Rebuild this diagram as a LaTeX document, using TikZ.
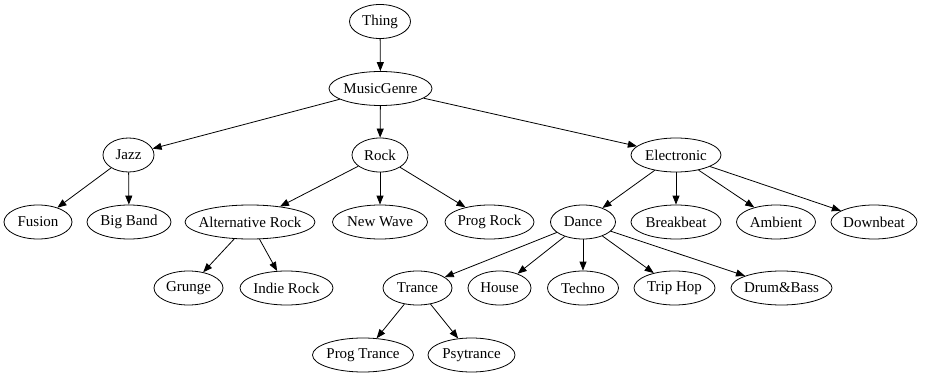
\documentclass[tikz,border=0pt]{standalone}
\usepackage{fontspec}
\setmainfont{Liberation Serif}
\usetikzlibrary{shapes.geometric,arrows.meta}
\begin{document}
\begin{tikzpicture}[x=1pt,y=-1pt,
  gnode/.style={draw,ellipse,line width=0.8pt,inner xsep=-8pt,inner ysep=0pt,
    minimum height=34pt,font=\fontsize{15}{17}\selectfont},
  edge/.style={line width=0.8pt,-{Triangle[length=9pt,width=7pt]}}]
\useasboundingbox (0,0) rectangle (925,374);
\node[gnode,minimum width=61pt]  (thing) at (380,21.5) {Thing};
\node[gnode,minimum width=103pt] (mg) at (380.5,88.5) {MusicGenre};
\node[gnode,minimum width=51pt]  (jazz) at (128.5,155) {Jazz};
\node[gnode,minimum width=56pt]  (rock) at (380,155) {Rock};
\node[gnode,minimum width=90pt]  (elec) at (676,155) {Electronic};
\node[gnode,minimum width=68pt]  (fusion) at (38,222) {Fusion};
\node[gnode,minimum width=84pt]  (bigband) at (129,222) {Big Band};
\node[gnode,minimum width=130pt] (altrock) at (250,222) {Alternative Rock};
\node[gnode,minimum width=95pt]  (newwave) at (380,222) {New Wave};
\node[gnode,minimum width=89pt]  (progrock) at (489.5,222) {Prog Rock};
\node[gnode,minimum width=65pt]  (dance) at (583,222) {Dance};
\node[gnode,minimum width=90pt]  (breakbeat) at (676,222) {Breakbeat};
\node[gnode,minimum width=79pt]  (ambient) at (776,222) {Ambient};
\node[gnode,minimum width=86pt]  (downbeat) at (874,222) {Downbeat};
\node[gnode,minimum width=69pt]  (grunge) at (188.5,288) {Grunge};
\node[gnode,minimum width=93pt]  (indie) at (286.5,288) {Indie Rock};
\node[gnode,minimum width=69pt]  (trance) at (417.5,288) {Trance};
\node[gnode,minimum width=63pt]  (house) at (499.5,288) {House};
\node[gnode,minimum width=71pt]  (techno) at (583,288) {Techno};
\node[gnode,minimum width=81pt]  (triphop) at (674.5,288) {Trip Hop};
\node[gnode,minimum width=101pt] (dnb) at (781.5,288) {Drum\&Bass};
\node[gnode,minimum width=101pt] (progtrance) at (363,355) {Prog Trance};
\node[gnode,minimum width=87pt]  (psy) at (471.5,355) {Psytrance};
\draw[edge] (thing) -- (mg);
\draw[edge] (mg) -- (jazz);
\draw[edge] (mg) -- (rock);
\draw[edge] (mg) -- (elec);
\draw[edge] (jazz) -- (fusion);
\draw[edge] (jazz) -- (bigband);
\draw[edge] (rock) -- (altrock);
\draw[edge] (rock) -- (newwave);
\draw[edge] (rock) -- (progrock);
\draw[edge] (elec) -- (dance);
\draw[edge] (elec) -- (breakbeat);
\draw[edge] (elec) -- (ambient);
\draw[edge] (elec) -- (downbeat);
\draw[edge] (altrock) -- (grunge);
\draw[edge] (altrock) -- (indie);
\draw[edge] (dance) -- (trance);
\draw[edge] (dance) -- (house);
\draw[edge] (dance) -- (techno);
\draw[edge] (dance) -- (triphop);
\draw[edge] (dance) -- (dnb);
\draw[edge] (trance) -- (progtrance);
\draw[edge] (trance) -- (psy);
\end{tikzpicture}
\end{document}
